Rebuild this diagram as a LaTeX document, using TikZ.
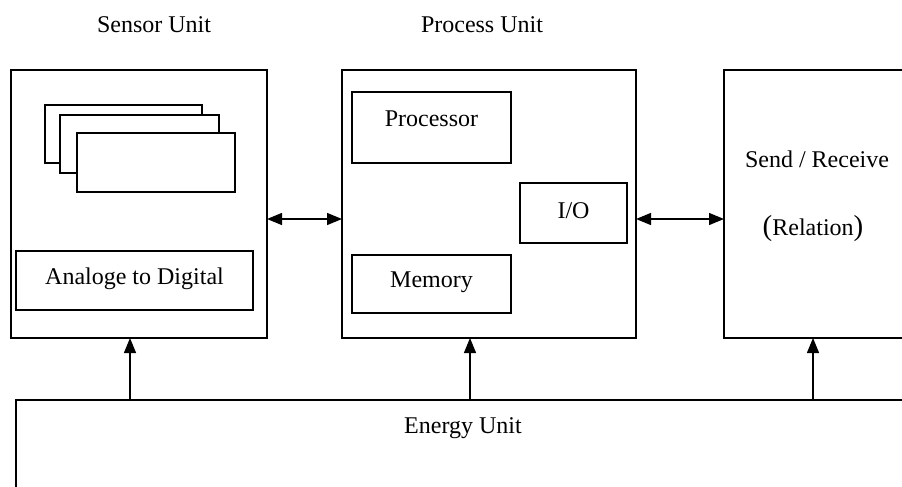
\documentclass[tikz,border=0pt]{standalone}
\usepackage{fontspec}
\setmainfont{Liberation Serif}
\usetikzlibrary{arrows.meta}
\begin{document}
\begin{tikzpicture}[x=1pt,y=-1pt,
  every node/.style={font=\fontsize{24}{28}\selectfont},
  box/.style={draw, line width=1.4pt, rectangle, inner sep=0pt, outer sep=0pt, anchor=north west, fill=white},
  lbl/.style={inner sep=0pt, anchor=center},
  conn/.style={line width=1.3pt, -{Triangle[length=15pt,width=12pt]}},
  dconn/.style={line width=1.3pt, {Triangle[length=15pt,width=12pt]}-{Triangle[length=15pt,width=12pt]}}]
\clip (0,0) rectangle (902,487);
\fill[white] (0,0) rectangle (902,487);
% titles
\node[lbl] (tsens) at (154,25) {Sensor Unit};
\node[lbl] (tproc) at (482,25) {Process Unit};
% sensor unit
\node[box, minimum width=256pt, minimum height=268pt] (sensor) at (11,70) {};
\node[box, minimum width=157pt, minimum height=58pt] (s1) at (45,105) {};
\node[box, minimum width=159pt, minimum height=58pt] (s2) at (60,115) {};
\node[box, minimum width=158pt, minimum height=59pt] (s3) at (77,133) {};
\node[box, minimum width=237pt, minimum height=59pt] (adc) at (16,251) {};
\node[lbl] (tadc) at (134.5,279) {Analoge to Digital};
% process unit
\node[box, minimum width=294pt, minimum height=268pt] (proc) at (342,70) {};
\node[box, minimum width=159pt, minimum height=71pt] (cpu) at (352,92) {};
\node[lbl] (tcpu) at (431.5,119) {Processor};
\node[box, minimum width=107pt, minimum height=60pt] (io) at (520,183) {};
\node[lbl] (tio) at (573.5,211) {I/O};
\node[box, minimum width=159pt, minimum height=58pt] (mem) at (352,255) {};
\node[lbl] (tmem) at (431.5,282) {Memory};
% send / receive
\node[box, minimum width=200pt, minimum height=268pt] (radio) at (724,70) {};
\node[lbl] (tsend) at (817,159) {Send / Receive};
\node[lbl] (trel) at (813,229) {{\fontsize{29}{29}\selectfont(}Relation{\fontsize{29}{29}\selectfont)}};
% energy unit
\node[box, minimum width=920pt, minimum height=120pt] (energy) at (16,400) {};
\node[lbl] (tenergy) at (463,428) {Energy Unit};
% connectors
\coordinate (row) at (0,219);
\draw[dconn] (sensor.east |- row) -- (proc.west |- row);
\draw[dconn] (proc.east |- row) -- (radio.west |- row);
\coordinate (e1) at (130,400);
\coordinate (e2) at (470,400);
\coordinate (e3) at (813,400);
\draw[conn] (e1) -- (e1 |- sensor.south);
\draw[conn] (e2) -- (e2 |- proc.south);
\draw[conn] (e3) -- (e3 |- radio.south);
\end{tikzpicture}
\end{document}
